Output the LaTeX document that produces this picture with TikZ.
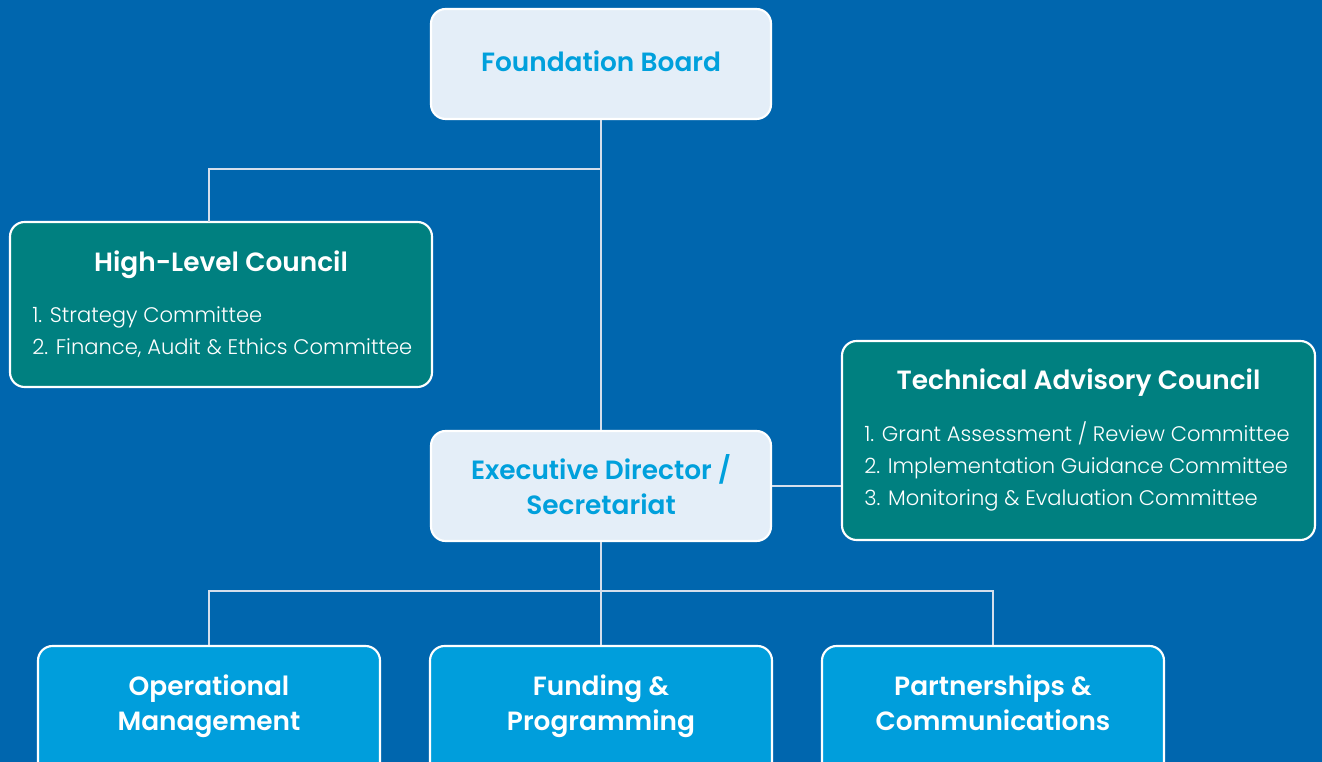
\documentclass[tikz,border=0pt]{standalone}
\usepackage{fontspec}
\setmainfont{Poppins}[BoldFont={Poppins SemiBold}]
\newfontfamily\lightfont{Poppins Light}
\usetikzlibrary{positioning}
\definecolor{bgblue}{HTML}{0066AE}
\definecolor{paleblue}{HTML}{E4EEF8}
\definecolor{titleblue}{HTML}{00A0DC}
\definecolor{teal}{HTML}{008080}
\definecolor{brightblue}{HTML}{009EDC}
\definecolor{linecol}{HTML}{D4DEEC}
\tikzset{
  box/.style={draw=white, line width=1.6pt, rounded corners=11pt, inner sep=0pt},
  palebox/.style={box, fill=paleblue, minimum width=255pt, minimum height=82.5pt},
  tealbox/.style={box, fill=teal},
  bottombox/.style={box, fill=brightblue, minimum width=256.5pt, minimum height=97.5pt},
  conn/.style={draw=linecol, line width=1.1pt},
  headtxt/.style={font=\bfseries\fontsize{19.8}{26}\selectfont, align=center, inner sep=0pt},
  listtxt/.style={font=\lightfont\fontsize{15.8}{24}\selectfont, text=white, align=left, anchor=west, inner sep=0pt},
}
\begin{document}
\begin{tikzpicture}[x=0.75pt, y=-0.75pt]
\useasboundingbox (0,0) rectangle (1322,762);
\fill[bgblue] (0,0) rectangle (1322,762);
% boxes
\node[palebox] (fb) at (601,64) {};
\node[headtxt, text=titleblue] (fbt) at (601,65) {\strut Foundation Board};
\node[tealbox, minimum width=316.5pt, minimum height=123.75pt] (hlc) at (221,304.5) {};
\node[headtxt, text=white] (hlct) at (221,265) {\strut High-Level Council};
\node[listtxt] (hlcl) at (32,332) {1. Strategy Committee\\2. Finance, Audit \& Ethics Committee};
\node[palebox] (ed) at (601,486) {};
\node[headtxt, text=titleblue] (edt) at (601,490) {\strut Executive Director /\\\strut Secretariat};
\node[tealbox, minimum width=354.75pt, minimum height=149.25pt] (tac) at (1078.5,440.5) {};
\node[headtxt, text=white] (tact) at (1078.5,383) {\strut Technical Advisory Council};
\node[listtxt] (tacl) at (864,466) {1. Grant Assessment / Review Committee\\2. Implementation Guidance Committee\\3. Monitoring \& Evaluation Committee};
\node[bottombox] (om) at (209,711) {};
\node[bottombox] (fp) at (601,711) {};
\node[bottombox] (pc) at (993,711) {};
\node[headtxt, text=white] (omt) at (209,706) {\strut Operational\\\strut Management};
\node[headtxt, text=white] (fpt) at (601,706) {\strut Funding \&\\\strut Programming};
\node[headtxt, text=white] (pct) at (993,706) {\strut Partnerships \&\\\strut Communications};
% junctions
\coordinate (j1) at (601,169);
\coordinate (h1) at (209,222);
\coordinate (j2) at (601,591);
% connectors
\draw[conn] (fb.south) -- (ed.north);
\draw[conn] (j1) -| (h1);
\draw[conn] (ed.east) -- (ed.east -| tac.west);
\draw[conn] (ed.south) -- (fp.north);
\draw[conn] (j2) -| (om.north);
\draw[conn] (j2) -| (pc.north);
\end{tikzpicture}
\end{document}
